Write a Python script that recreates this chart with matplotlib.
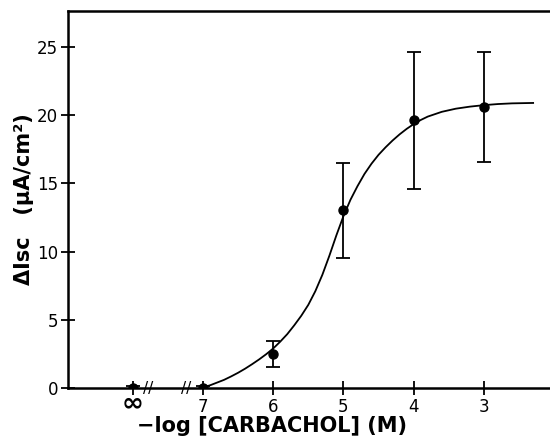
import matplotlib.pyplot as plt
import matplotlib.transforms as mtransforms

# -log [carbachol]; "inf" (no drug) plotted at position 8
x_pts = [8.0, 7.0, 6.0, 5.0, 4.0, 3.0]
y_pts = [0.0, 0.0, 2.5, 13.05, 19.65, 20.6]
err_lo = [0.15, 0.15, 0.95, 3.55, 5.05, 4.0]
err_hi = [0.15, 0.15, 0.95, 3.45, 4.95, 4.0]

# fitted curve
curve_x = [7.0, 6.9, 6.8, 6.7, 6.6, 6.5, 6.4, 6.3, 6.2, 6.1, 6.0,
           5.9, 5.8, 5.7, 5.6, 5.5, 5.4, 5.3, 5.2, 5.1, 5.0,
           4.9, 4.8, 4.7, 4.6, 4.5, 4.4, 4.3, 4.2, 4.1, 4.0,
           3.9, 3.8, 3.6, 3.4, 3.2, 3.0, 2.8, 2.6, 2.3]
curve_y = [0.05, 0.2, 0.4, 0.6, 0.85, 1.12, 1.42, 1.75, 2.1, 2.48, 2.9,
           3.4, 3.95, 4.6, 5.3, 6.1, 7.1, 8.3, 9.7, 11.2, 12.6,
           13.8, 14.8, 15.7, 16.45, 17.1, 17.65, 18.15, 18.6, 19.0, 19.35,
           19.65, 19.9, 20.25, 20.48, 20.63, 20.74, 20.82, 20.87, 20.9]

tick_pos = [8, 7, 6, 5, 4, 3]
tick_lab = ["∞", "7", "6", "5", "4", "3"]

plt.rcParams['font.family'] = ['DejaVu Sans']

fig = plt.figure(figsize=(5.5, 4.4), dpi=100)
ax = fig.add_axes([0.1236, 0.118, 0.8764, 0.857])

ax.plot(curve_x, curve_y, color='black', lw=1.3)
ax.errorbar(x_pts, y_pts, yerr=[err_lo, err_hi], fmt='o', color='black',
            ms=6.5, elinewidth=1.3, capsize=4.7, capthick=1.3)

ax.set_xlim(8.92, 2.06)
ax.set_ylim(0, 27.64)

ax.spines['right'].set_visible(False)
for s in ['left', 'bottom', 'top']:
    ax.spines[s].set_linewidth(1.8)

ax.set_xticks(tick_pos)
ax.set_xticklabels(tick_lab)
ax.set_yticks([0, 5, 10, 15, 20, 25])
ax.tick_params(direction='inout', length=10, width=1.3, labelsize=12, pad=2)
for lab in ax.get_xticklabels():
    if lab.get_text() == "∞":
        lab.set_fontsize(19)
        lab.set_fontweight('bold')
        shift = mtransforms.ScaledTranslation(0, 5 / 72, fig.dpi_scale_trans)
        lab.set_transform(lab.get_transform() + shift)

# axis break marks
for bx in [7.78, 7.24]:
    ax.text(bx, 0, "//", ha='center', va='center', fontsize=11,
            clip_on=False)

ax.set_ylabel("ΔIsc   (μA/cm²)", fontsize=15, fontweight='bold', labelpad=2)
ax.set_xlabel("−log [CARBACHOL] (M)", fontsize=15, fontweight='bold')
ax.xaxis.set_label_coords(0.423, -0.075)

fig.savefig("out.png", dpi=100)
